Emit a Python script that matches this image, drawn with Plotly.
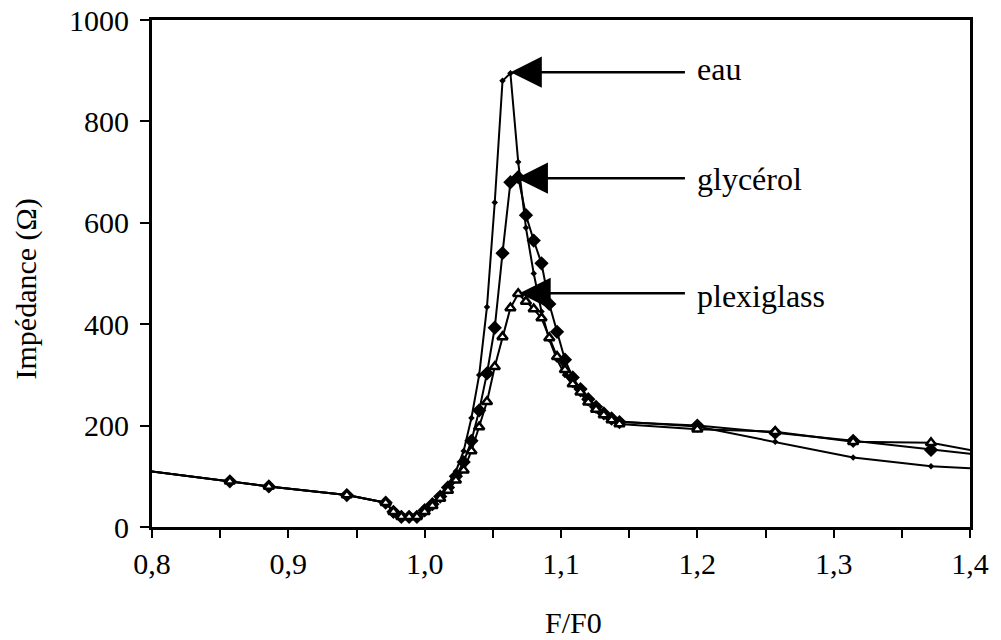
import plotly.graph_objects as go

# F/F0 ratios (points outside 0.8-1.4 are only there so the lines run to the frame)
f_ratio = [0.7714, 0.8571, 0.8857, 0.9429, 0.9714,
           0.9771, 0.9829, 0.9886, 0.9943, 1.0000, 1.0057, 1.0114, 1.0171, 1.0229, 1.0286,
           1.0343, 1.0400, 1.0457, 1.0514, 1.0571, 1.0629, 1.0686, 1.0743, 1.0800, 1.0857,
           1.0914, 1.0971, 1.1029, 1.1086, 1.1143, 1.1200, 1.1257, 1.1314, 1.1371, 1.1429,
           1.2000, 1.2571, 1.3143, 1.3714, 1.4286]

eau = [119, 90, 80, 63, 48,
       30, 20, 20, 20, 33, 47, 63, 84, 110, 150,
       215, 300, 434, 640, 880, 895, 720, 590, 500, 425,
       370, 330, 300, 280, 262, 248, 236, 225, 215, 208,
       198, 168, 137, 120, 112]

glycerol = [119, 90, 80, 63, 48,
            30, 20, 20, 20, 33, 45, 60, 78, 100, 128,
            170, 230, 303, 393, 540, 680, 690, 615, 565, 520,
            440, 385, 330, 295, 272, 252, 237, 224, 214, 207,
            200, 186, 170, 152, 136]

plexiglass = [119, 90, 80, 63, 48,
              30, 20, 20, 20, 30, 42, 56, 72, 92, 112,
              150, 197, 247, 316, 375, 432, 460, 445, 430, 412,
              373, 336, 310, 282, 266, 246, 232, 221, 211, 203,
              193, 188, 168, 166, 138]

labels = ["eau", "glycérol", "plexiglass"]
arrow_tip_x = [1.0630, 1.0675, 1.0695]
arrow_y = [897, 688, 461]
arrow_tail_x = [1.192, 1.192, 1.192]
label_x = [1.1985, 1.1985, 1.1980]
label_y = [903, 687, 455]

x_title = "F/F0"
y_title = "Impédance (Ω)"

FONT = "Liberation Serif, Times New Roman, serif"
FS = 30

fig = go.Figure()
fig.add_trace(go.Scatter(x=f_ratio, y=eau, mode="lines+markers", name="eau",
                         line=dict(color="black", width=2),
                         marker=dict(symbol="diamond", size=5, color="black")))
fig.add_trace(go.Scatter(x=f_ratio, y=glycerol, mode="lines+markers", name="glycérol",
                         line=dict(color="black", width=2),
                         marker=dict(symbol="diamond", size=11, color="black")))
fig.add_trace(go.Scatter(x=f_ratio, y=plexiglass, mode="lines+markers", name="plexiglass",
                         line=dict(color="black", width=2),
                         marker=dict(symbol="triangle-up", size=9, color="white",
                                     line=dict(width=2.5, color="black"))))

for i, lab in enumerate(labels):
    fig.add_annotation(x=arrow_tip_x[i], y=arrow_y[i], ax=arrow_tail_x[i], ay=arrow_y[i],
                       xref="x", yref="y", axref="x", ayref="y", text="",
                       showarrow=True, arrowhead=2, arrowsize=2.5, arrowwidth=2.5,
                       arrowcolor="black")
    fig.add_annotation(x=label_x[i], y=label_y[i], xref="x", yref="y", text=lab,
                       showarrow=False, xanchor="left", yanchor="middle",
                       font=dict(family=FONT, size=32, color="black"))

# axis titles as annotations for exact placement
fig.add_annotation(x=0.5, y=0, xref="paper", yref="paper", text=x_title,
                   showarrow=False, xanchor="center", yanchor="middle",
                   xshift=12, yshift=-95, font=dict(family=FONT, size=FS, color="black"))
fig.add_annotation(x=0, y=0.5, xref="paper", yref="paper", text=y_title,
                   showarrow=False, xanchor="center", yanchor="middle", textangle=-90,
                   xshift=-127, yshift=-16, font=dict(family=FONT, size=FS, color="black"))

fig.update_layout(
    width=1001, height=640,
    margin=dict(l=152, r=31, t=20, b=113, autoexpand=False),
    paper_bgcolor="white", plot_bgcolor="white",
    showlegend=False,
    separators=", ",
    font=dict(family=FONT, size=FS, color="black"),
)
fig.update_xaxes(range=[0.8, 1.4], dtick=0.1, tick0=0.8, tickformat=".1f",
                 ticks="outside", ticklen=8, tickwidth=2, tickcolor="black",
                 minor=dict(dtick=0.05, ticks="outside", ticklen=8, tickwidth=2, tickcolor="black"),
                 showline=True, linewidth=3, linecolor="black", mirror=True,
                 showgrid=False, zeroline=False, automargin=False, ticklabelstandoff=0)
fig.update_yaxes(range=[0, 1000], dtick=200, tick0=0,
                 ticks="outside", ticklen=9, tickwidth=2, tickcolor="black",
                 showline=True, linewidth=3, linecolor="black", mirror=True,
                 showgrid=False, zeroline=False, automargin=False, ticklabelstandoff=5)

fig.write_html("out.html", config={"displayModeBar": False},
               post_script="document.body.style.margin='0';")
